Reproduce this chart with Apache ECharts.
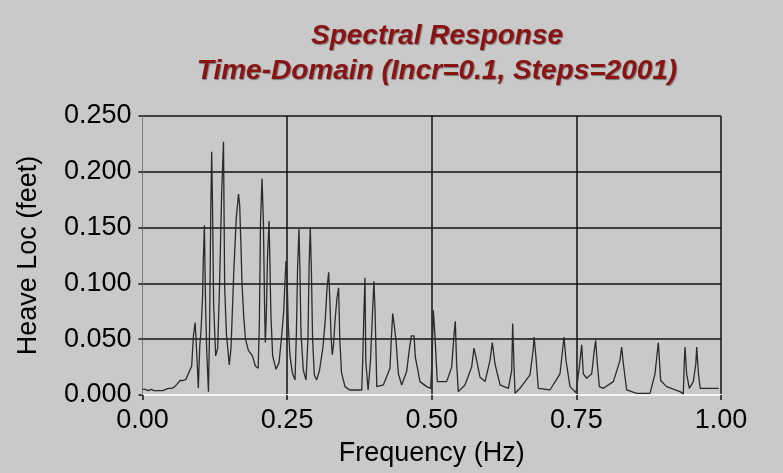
<!DOCTYPE html>
<html>
<head>
<meta charset="utf-8">
<script src="https://cdn.jsdelivr.net/npm/echarts@6/dist/echarts.min.js"></script>
<style>
  html, body { margin: 0; padding: 0; background: #c9c9c9; }
  #chart { width: 783px; height: 473px; }
</style>
</head>
<body>
<div id="chart"></div>
<script>
// values (frequency in Hz, heave in feet)
const freqHz = [
  0.000, 0.005, 0.010, 0.015, 0.020, 0.025, 0.030, 0.035, 0.040, 0.045,
  0.050, 0.055, 0.060, 0.065, 0.070, 0.075, 0.080, 0.085, 0.088, 0.091,
  0.094, 0.0965, 0.099, 0.101, 0.104, 0.105, 0.107, 0.109, 0.111, 0.114,
  0.116, 0.118, 0.1196, 0.121, 0.123, 0.1265, 0.130, 0.133, 0.137, 0.140,
  0.142, 0.145, 0.150, 0.153, 0.158, 0.162, 0.166, 0.168, 0.170, 0.172,
  0.175, 0.178, 0.183, 0.190, 0.195, 0.200, 0.202, 0.204, 0.2066, 0.209,
  0.211, 0.2123, 0.214, 0.216, 0.2187, 0.220, 0.222, 0.225, 0.2308, 0.236,
  0.240, 0.244, 0.246, 0.248, 0.250, 0.252, 0.255, 0.259, 0.2636, 0.266,
  0.268, 0.2705, 0.272, 0.274, 0.278, 0.2826, 0.286, 0.288, 0.290, 0.292,
  0.294, 0.297, 0.301, 0.306, 0.312, 0.316, 0.319, 0.3218, 0.324, 0.326,
  0.328, 0.330, 0.333, 0.336, 0.339, 0.341, 0.344, 0.350, 0.358, 0.370,
  0.379, 0.3806, 0.383, 0.3846, 0.386, 0.390, 0.394, 0.398, 0.400, 0.402,
  0.405, 0.4163, 0.4278, 0.430, 0.4325, 0.435, 0.4382, 0.4423, 0.448, 0.4566,
  0.461, 0.4647, 0.4694, 0.4716, 0.4797, 0.4912, 0.4981, 0.5004, 0.5027, 0.505,
  0.5096, 0.5258, 0.5344, 0.5385, 0.5407, 0.543, 0.5459, 0.5574, 0.569, 0.573,
  0.5765, 0.5834, 0.5921, 0.6007, 0.6047, 0.6093, 0.618, 0.6324, 0.6382, 0.6399,
  0.6422, 0.644, 0.6525, 0.6698, 0.675, 0.677, 0.6801, 0.6842, 0.7044, 0.7217,
  0.7286, 0.732, 0.739, 0.7494, 0.7551, 0.7592, 0.762, 0.7678, 0.7765, 0.781,
  0.7833, 0.7862, 0.7897, 0.7966, 0.8139, 0.8254, 0.8283, 0.8312, 0.837, 0.8542,
  0.8773, 0.8859, 0.8917, 0.8957, 0.906, 0.929, 0.9348, 0.9365, 0.9378, 0.9406,
  0.9452, 0.9521, 0.9565, 0.958, 0.961, 0.964, 0.980, 0.996
];
const heaveFt = [
  0.005, 0.005, 0.004, 0.005, 0.004, 0.004, 0.004, 0.004, 0.005, 0.006,
  0.006, 0.007, 0.010, 0.013, 0.013, 0.014, 0.020, 0.026, 0.053, 0.065,
  0.035, 0.006, 0.044, 0.056, 0.090, 0.119, 0.152, 0.080, 0.040, 0.003,
  0.060, 0.164, 0.218, 0.170, 0.080, 0.035, 0.042, 0.095, 0.183, 0.227,
  0.098, 0.055, 0.027, 0.042, 0.113, 0.158, 0.180, 0.170, 0.137, 0.100,
  0.070, 0.050, 0.040, 0.035, 0.026, 0.024, 0.065, 0.155, 0.194, 0.155,
  0.080, 0.047, 0.071, 0.122, 0.156, 0.125, 0.071, 0.035, 0.023, 0.029,
  0.050, 0.074, 0.098, 0.120, 0.105, 0.062, 0.035, 0.020, 0.0135, 0.055,
  0.113, 0.149, 0.115, 0.055, 0.022, 0.0135, 0.050, 0.116, 0.150, 0.110,
  0.050, 0.018, 0.0135, 0.022, 0.043, 0.068, 0.096, 0.110, 0.083, 0.052,
  0.036, 0.044, 0.068, 0.086, 0.096, 0.050, 0.020, 0.0075, 0.0045, 0.0045,
  0.0045, 0.030, 0.079, 0.105, 0.030, 0.0045, 0.030, 0.078, 0.102, 0.076,
  0.0075, 0.009, 0.024, 0.049, 0.073, 0.063, 0.049, 0.019, 0.009, 0.021,
  0.040, 0.053, 0.053, 0.034, 0.012, 0.0075, 0.006, 0.028, 0.076, 0.058,
  0.012, 0.012, 0.025, 0.054, 0.066, 0.028, 0.003, 0.009, 0.025, 0.042,
  0.034, 0.016, 0.012, 0.031, 0.047, 0.028, 0.009, 0.006, 0.022, 0.064,
  0.025, 0.0015, 0.006, 0.018, 0.039, 0.052, 0.034, 0.006, 0.0045, 0.019,
  0.052, 0.031, 0.0075, 0.002, 0.025, 0.045, 0.019, 0.015, 0.019, 0.040,
  0.049, 0.028, 0.0075, 0.006, 0.012, 0.031, 0.043, 0.028, 0.0045, 0.0015,
  0.0015, 0.019, 0.047, 0.013, 0.0075, 0.003, 0.001, 0.028, 0.043, 0.019,
  0.006, 0.012, 0.028, 0.043, 0.019, 0.006, 0.006, 0.006
];
const xTicks = [0, 0.25, 0.5, 0.75, 1];
const yTicks = [0, 0.05, 0.1, 0.15, 0.2, 0.25];

const chart = echarts.init(document.getElementById('chart'));
const fontFam = '"Liberation Sans", Arial, sans-serif';

chart.setOption({
  backgroundColor: '#c9c9c9',
  animation: false,
  title: {
    text: 'Spectral Response\nTime-Domain (Incr=0.1, Steps=2001)',
    left: 432,
    top: 14,
    textAlign: 'center',
    textStyle: {
      color: '#8a1414',
      fontFamily: fontFam,
      fontSize: 28,
      fontStyle: 'italic',
      fontWeight: 'bold',
      lineHeight: 35,
      textShadowColor: 'rgba(90,90,90,0.7)',
      textShadowOffsetX: 1,
      textShadowOffsetY: 1,
      textShadowBlur: 1
    }
  },
  grid: { left: 142.5, right: 62, top: 116, bottom: 78 },
  xAxis: {
    type: 'value',
    min: xTicks[0],
    max: xTicks[xTicks.length - 1],
    interval: 0.25,
    name: 'Frequency (Hz)',
    nameLocation: 'middle',
    nameGap: 45,
    nameTextStyle: { color: '#000', fontSize: 27, fontFamily: fontFam },
    axisLine: { show: true, lineStyle: { color: '#f4f4f4', width: 2 } },
    axisTick: { show: true, length: 5, inside: false, lineStyle: { color: '#111', width: 1.5 } },
    axisLabel: {
      color: '#000', fontSize: 27, fontFamily: fontFam, margin: 12,
      formatter: v => v.toFixed(2)
    },
    splitLine: { show: true, showMinLine: false, lineStyle: { color: '#111', width: 1.5 } }
  },
  yAxis: {
    type: 'value',
    min: yTicks[0],
    max: yTicks[yTicks.length - 1],
    interval: 0.05,
    name: 'Heave Loc (feet)',
    nameLocation: 'middle',
    nameGap: 100,
    nameTextStyle: { color: '#000', fontSize: 27, fontFamily: fontFam },
    axisLine: { show: true, lineStyle: { color: '#7a7a7a', width: 1 } },
    axisTick: { show: true, length: 4, lineStyle: { color: '#111', width: 1.5 } },
    axisLabel: {
      color: '#000', fontSize: 27, fontFamily: fontFam, margin: 11,
      formatter: v => v.toFixed(3)
    },
    splitLine: { show: true, showMinLine: false, lineStyle: { color: '#111', width: 1.5 } }
  },
  series: [{
    type: 'line',
    data: freqHz.map((f, i) => [f, heaveFt[i]]),
    showSymbol: false,
    lineStyle: { color: '#2a2a2a', width: 1.3 },
    z: 3
  }]
});
</script>
</body>
</html>
